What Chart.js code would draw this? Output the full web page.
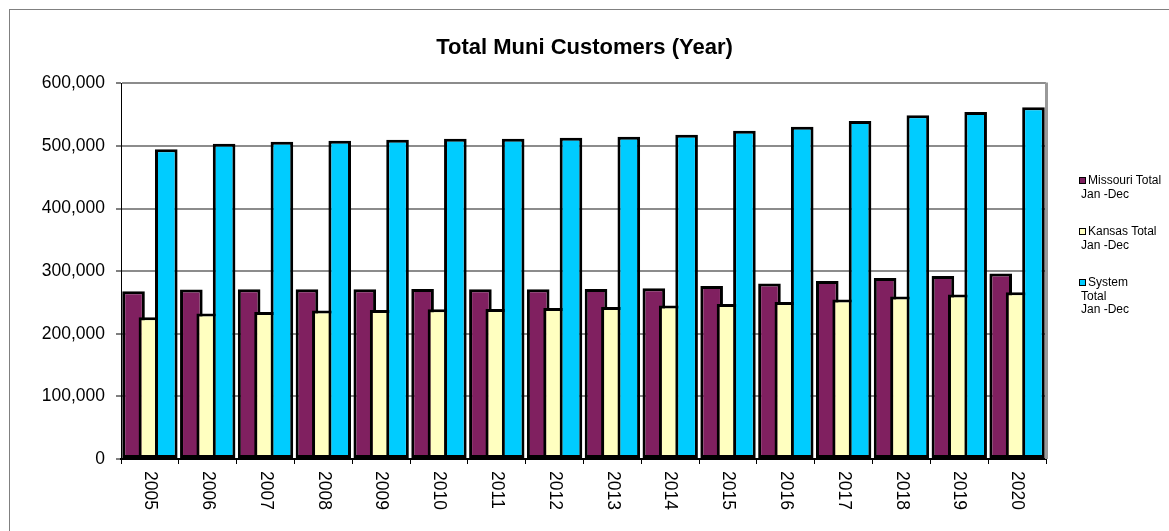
<!DOCTYPE html>
<html>
<head>
<meta charset="utf-8">
<script src="https://cdn.jsdelivr.net/npm/chart.js@4"></script>
<style>
  html, body { margin:0; padding:0; background:#fff; overflow:hidden; }
  #wrap { position:relative; width:1169px; height:531px; }
  #frame { position:absolute; left:9px; top:9px; width:1200px; height:600px; border:1px solid #808080; }
  #chart { position:absolute; left:0; top:0; }
  #legend { position:absolute; left:1079px; top:174px; font:12px "Liberation Sans", Arial, sans-serif; color:#000; line-height:13.5px; }
  .item { margin-bottom:24px; }
  .item .sw { display:inline-block; width:5px; height:5px; border:1px solid #000; margin-right:2px; vertical-align:0px; }
  .item .rest { padding-left:2px; }
</style>
</head>
<body>
<div id="wrap">
  <div id="frame"></div>
  <canvas id="chart" width="1169" height="531"></canvas>
  <div id="legend"></div>
</div>
<script>
const years = ['2005','2006','2007','2008','2009','2010','2011','2012','2013','2014','2015','2016','2017','2018','2019','2020'];
const missouri = [268000, 270700, 271200, 271200, 271200, 271700, 271200, 271200, 271700, 272800, 276500, 280300, 284500, 289300, 292500, 296300];
const kansas   = [226400, 232300, 234900, 237100, 238100, 239200, 239700, 241300, 242900, 245100, 247700, 250900, 254700, 259500, 262700, 266400];
const system   = [494700, 503700, 506900, 508500, 510100, 511700, 511700, 513300, 514900, 518100, 524500, 530900, 540000, 549100, 554400, 561900];
const seriesLines = [['Missouri Total', 'Jan -Dec'], ['Kansas Total', 'Jan -Dec'], ['System', 'Total', 'Jan -Dec']];
const seriesColors = ['#802060', '#FFFFC0', '#00CCFF'];
const yTicks = [0, 100000, 200000, 300000, 400000, 500000, 600000];

const FONT = '"Liberation Sans", Arial, sans-serif';

// excel draws later series over earlier ones, chart.js does the reverse
const drawInOrder = {
  id: 'drawInOrder',
  beforeDatasetsDraw(chart) {
    chart.getSortedVisibleDatasetMetas().forEach(meta => meta.controller.draw());
    return false;
  }
};

// year labels run top-to-bottom (rotated clockwise)
const xLabels = {
  id: 'xLabels',
  afterDraw(chart) {
    const { ctx, scales: { x } } = chart;
    ctx.save();
    ctx.font = '17.5px ' + FONT;
    ctx.fillStyle = '#000';
    ctx.textAlign = 'left';
    ctx.textBaseline = 'middle';
    x.ticks.forEach((t, i) => {
      ctx.save();
      ctx.translate(x.getPixelForTick(i), x.top + 12);
      ctx.rotate(Math.PI / 2);
      ctx.fillText(x.getLabelForValue(t.value), 0, 0);
      ctx.restore();
    });
    ctx.restore();
  }
};

const plotEdge = {
  id: 'plotEdge',
  afterDraw(chart) {
    const { ctx, chartArea: a } = chart;
    ctx.save();
    ctx.strokeStyle = '#999';
    ctx.lineWidth = 3;
    ctx.beginPath();
    ctx.moveTo(a.right + 0.5, a.top - 1);
    ctx.lineTo(a.right + 0.5, a.bottom);
    ctx.stroke();
    ctx.restore();
  }
};

const datasets = [missouri, kansas, system].map((data, i) => ({
  label: seriesLines[i].join(' '),
  data,
  backgroundColor: seriesColors[i],
  borderColor: '#000',
  borderWidth: 3,
  borderSkipped: false,
  categoryPercentage: 0.85,
  barPercentage: 1.38
}));

new Chart(document.getElementById('chart'), {
  type: 'bar',
  data: { labels: years, datasets },
  plugins: [drawInOrder, xLabels, plotEdge],
  options: {
    responsive: false,
    animation: false,
    devicePixelRatio: 1,
    layout: { padding: 0 },
    plugins: {
      legend: { display: false },
      tooltip: { enabled: false },
      title: {
        display: true,
        text: 'Total Muni Customers (Year)',
        color: '#000',
        font: { family: FONT, size: 22, weight: 'bold' },
        padding: { top: 35, bottom: 22 }
      }
    },
    scales: {
      x: {
        afterFit: s => { s.height = 72; },
        grid: { display: true, drawOnChartArea: false, drawTicks: true, tickLength: 5, tickColor: '#000', tickWidth: 1, offset: true },
        border: { color: '#000', width: 2 },
        ticks: { display: false }
      },
      y: {
        min: 0,
        max: 600000,
        afterFit: s => { s.width = 121; },
        afterBuildTicks: s => { s.ticks = yTicks.map(v => ({ value: v })); },
        grid: { color: '#8c8c8c', lineWidth: 2, tickLength: 5, tickColor: '#000', tickWidth: 1 },
        border: { color: '#000', width: 1 },
        ticks: {
          color: '#000',
          padding: 11,
          font: { family: FONT, size: 17.5 },
          callback: v => v.toLocaleString('en-US')
        }
      },
      // empty right-hand strip that holds the legend space
      gap: {
        position: 'right',
        afterFit: s => { s.width = 123; },
        grid: { display: false },
        border: { display: false },
        ticks: { display: false }
      }
    }
  }
});

const legend = document.getElementById('legend');
legend.innerHTML = seriesLines.map((lines, i) => `<div class="item">
  <span class="sw" style="background:${seriesColors[i]}"></span>${lines[0]}${lines.slice(1).map(l => `<br><span class="rest">${l}</span>`).join('')}
</div>`).join('');
</script>
</body>
</html>
